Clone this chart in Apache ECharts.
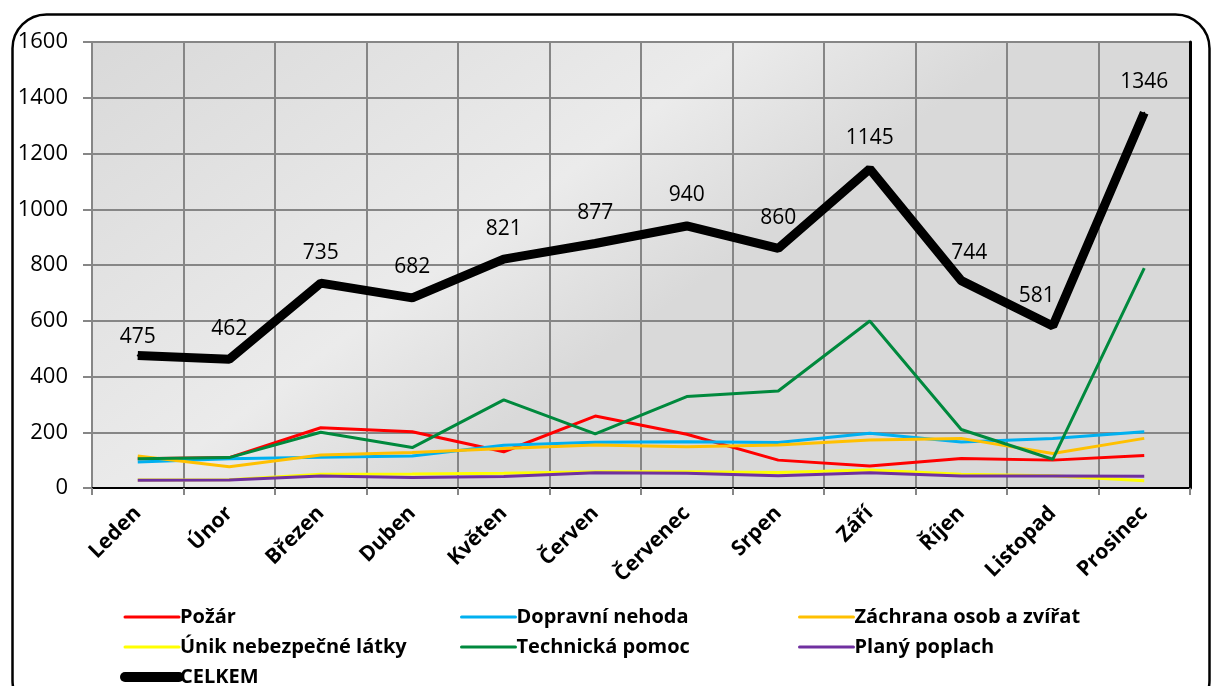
<!DOCTYPE html>
<html>
<head>
<meta charset="utf-8">
<script src="https://cdn.jsdelivr.net/npm/echarts@6/dist/echarts.min.js"></script>
<style>
  html, body { margin: 0; padding: 0; background: #fff; }
  #chart { width: 1215px; height: 686px; }
</style>
</head>
<body>
<div id="chart"></div>
<script>
// měsíce
var months = ['Leden', 'Únor', 'Březen', 'Duben', 'Květen', 'Červen', 'Červenec', 'Srpen', 'Září', 'Říjen', 'Listopad', 'Prosinec']
var yTicks = [0, 200, 400, 600, 800, 1000, 1200, 1400, 1600]

var pozar = [105, 109, 216, 202, 130, 258, 193, 100, 79, 106, 100, 117]
var dopravni = [93, 105, 110, 115, 153, 164, 166, 163, 196, 165, 178, 202]
var zachrana = [115, 76, 118, 127, 142, 154, 148, 154, 172, 178, 124, 178]
var unik = [29, 30, 49, 50, 53, 58, 58, 56, 65, 49, 44, 26]
var technicka = [105, 109, 200, 145, 316, 194, 328, 348, 599, 210, 103, 789]
var plany = [28, 29, 43, 38, 41, 55, 53, 44, 55, 43, 43, 42]
var celkem = [475, 462, 735, 682, 821, 877, 940, 860, 1145, 744, 581, 1346]

var font = '"Open Sans", "Noto Sans", sans-serif'

var chart = echarts.init(document.getElementById('chart'))

function lineSeries(name, data, color) {
  return {
    name: name,
    type: 'line',
    data: data,
    symbol: 'none',
    color: color,
    lineStyle: { width: 3, color: color },
    z: 3
  }
}

function legendItem(name) {
  var w = name === 'CELKEM' ? 10 : 3
  return { name: name, lineStyle: { width: w, cap: 'round' } }
}

function legendBox(left, names) {
  return {
    orient: 'vertical',
    left: left,
    top: 607,
    height: 120,
    padding: 0,
    itemWidth: 54,
    itemHeight: 12,
    itemGap: 10,
    itemStyle: { opacity: 0 },
    data: names.map(legendItem),
    textStyle: { fontFamily: font, fontSize: 20, fontWeight: 'bold', color: '#000', padding: [0, 0, 0, -4] }
  }
}

chart.setOption({
  backgroundColor: '#fff',
  animation: false,
  graphic: [{
    type: 'rect',
    left: 10,
    top: 12,
    shape: { width: 1197, height: 700, r: 34 },
    style: { fill: 'none', stroke: '#000', lineWidth: 2.5 },
    z: 0
  }],
  grid: {
    left: 92,
    right: 25,
    top: 42,
    bottom: 198,
    show: true,
    borderWidth: 0,
    backgroundColor: {
      type: 'linear', x: 0, y: 0, x2: 0.3, y2: 1,
      colorStops: [
        { offset: 0, color: '#d9d9d9' },
        { offset: 0.7, color: '#ebebeb' },
        { offset: 1, color: '#d9d9d9' }
      ]
    }
  },
  legend: [
    legendBox(120, ['Požár', 'Únik nebezpečné látky', 'CELKEM']),
    legendBox(460, ['Dopravní nehoda', 'Technická pomoc']),
    legendBox(798, ['Záchrana osob a zvířat', 'Planý poplach'])
  ],
  xAxis: [{
    type: 'category',
    data: months,
    boundaryGap: true,
    axisLine: { lineStyle: { color: '#868686', width: 2 } },
    axisTick: { show: true, length: 7, lineStyle: { color: '#868686', width: 2 } },
    splitLine: { show: true, lineStyle: { color: '#868686', width: 2 } },
    axisLabel: {
      rotate: 45,
      interval: 0,
      margin: 22,
      padding: [36, 0, 0, 0],
      fontFamily: font,
      fontSize: 21,
      fontWeight: 'bold',
      color: '#000'
    }
  }, {
    type: 'category',
    data: months,
    position: 'top',
    axisLine: { lineStyle: { color: '#000', width: 2 } },
    axisTick: { show: false },
    axisLabel: { show: false }
  }],
  yAxis: [{
    type: 'value',
    min: yTicks[0],
    max: yTicks[yTicks.length - 1],
    interval: 200,
    axisLine: { show: true, lineStyle: { color: '#868686', width: 2 } },
    axisTick: { show: true, length: 9, lineStyle: { color: '#868686', width: 2 } },
    splitLine: { show: true, lineStyle: { color: '#868686', width: 2 } },
    axisLabel: {
      margin: 24,
      fontFamily: font,
      fontSize: 22,
      color: '#000',
      formatter: function (v) { return String(v) }
    }
  }, {
    type: 'value',
    position: 'right',
    min: yTicks[0],
    max: yTicks[yTicks.length - 1],
    interval: 200,
    axisLine: { show: true, lineStyle: { color: '#000', width: 3 } },
    axisTick: { show: false },
    splitLine: { show: false },
    axisLabel: { show: false }
  }],
  series: [
    lineSeries('Požár', pozar, '#ff0000'),
    lineSeries('Dopravní nehoda', dopravni, '#00b0f0'),
    lineSeries('Záchrana osob a zvířat', zachrana, '#ffc000'),
    lineSeries('Únik nebezpečné látky', unik, '#ffff00'),
    lineSeries('Technická pomoc', technicka, '#00893d'),
    lineSeries('Planý poplach', plany, '#7030a0'),
    {
      name: 'CELKEM',
      type: 'line',
      data: celkem,
      symbol: 'circle',
      symbolSize: 2,
      showAllSymbol: true,
      color: '#000',
      lineStyle: { width: 9, color: '#000' },
      z: 4,
      label: {
        show: true,
        position: 'top',
        distance: 19,
        fontFamily: font,
        fontSize: 21,
        color: '#000'
      },
      // popisky u Října a Listopadu jsou v originále trochu posunuté
      labelLayout: function (p) {
        if (p.dataIndex === 9) return { dx: 8, dy: 3 }
        if (p.dataIndex === 10) return { dx: -16 }
        if (p.dataIndex === 0) return { dy: 12 }
        return {}
      }
    }
  ]
})
</script>
</body>
</html>
